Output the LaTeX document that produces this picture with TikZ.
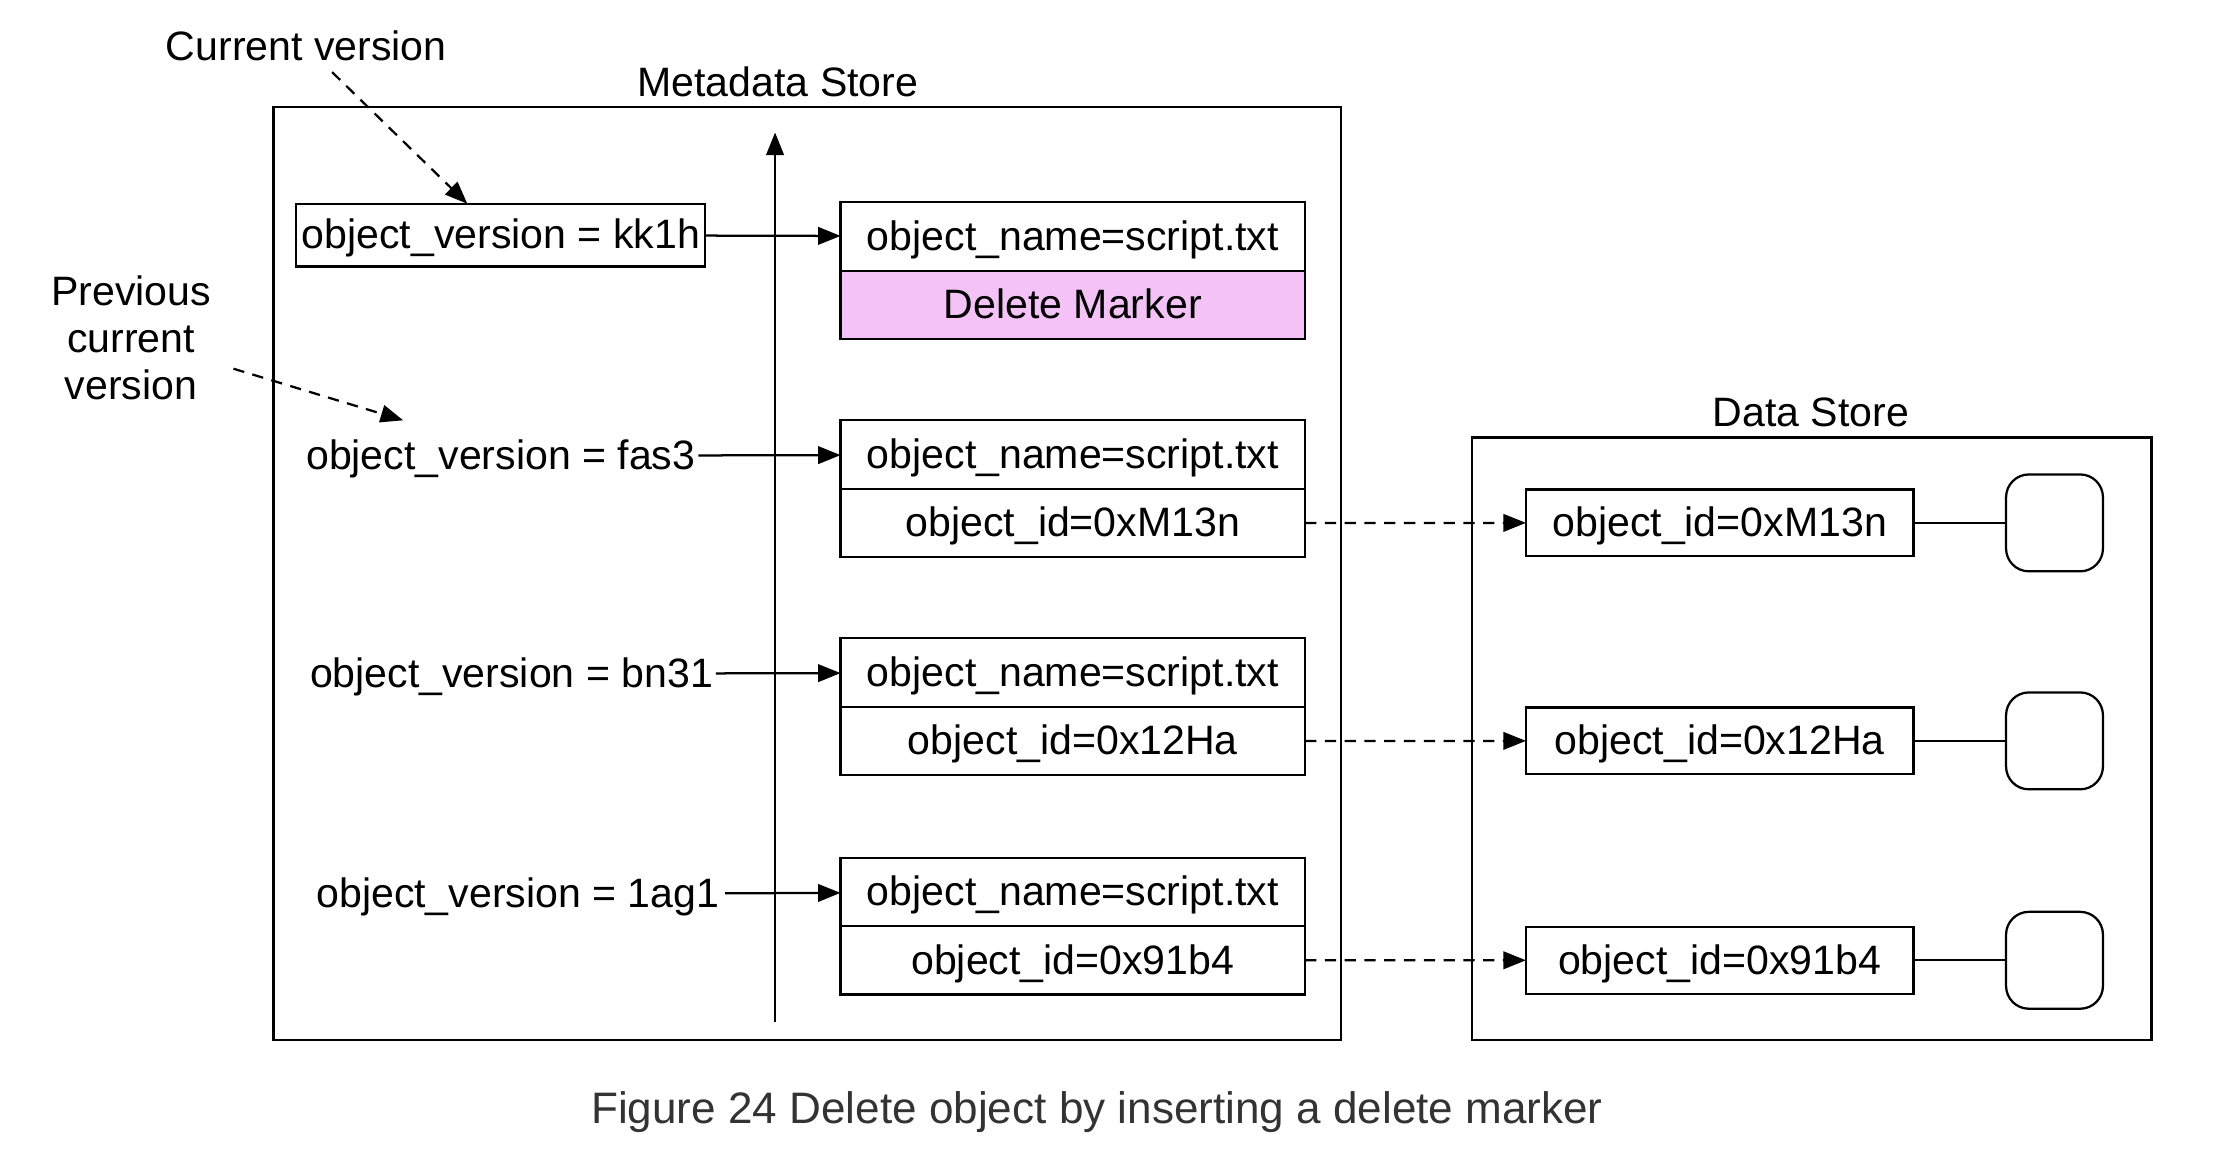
\documentclass[tikz,border=0pt]{standalone}
\usepackage{fontspec}
\setmainfont{Liberation Sans}
\usepackage{tikz}
\usetikzlibrary{arrows.meta,positioning}
\definecolor{markpink}{RGB}{245,194,247}
\definecolor{capgray}{RGB}{51,51,51}

\begin{document}
\begin{tikzpicture}[
	every node/.style={font=\fontsize{16.4}{18.7}\selectfont, text height=12pt, text depth=1pt},
	box/.style={draw, line width=0.9pt, outer sep=0pt, inner sep=2pt, align=center},
	row/.style={box, minimum width=6.52cm, minimum height=0.96cm},
	obj/.style={box, minimum width=5.44cm, minimum height=0.94cm},
	disk/.style={draw, line width=0.9pt, rounded corners=0.32cm, minimum width=1.36cm, minimum height=1.36cm},
	store/.style={draw, line width=0.9pt, outer sep=0pt},
	arr/.style={-{Triangle[length=9pt,width=7pt]}, line width=0.9pt},
	darr/.style={arr, dash pattern=on 4.5pt off 3.4pt}
]
	\useasboundingbox (0,0) rectangle (31.36,-16.28);

	% Metadata store
	\node (mtitle) at (10.92,-1.16) {Metadata Store};
	\node[store, minimum width=14.98cm, minimum height=13.1cm] (meta) at (11.33,-8.05) {};
	\coordinate (tbot) at (10.88,-14.34);
	\coordinate (ttop) at (10.88,-1.86);
	\draw[arr] (tbot) -- (ttop);

	% Current version
	\node[box, minimum width=5.74cm, minimum height=0.88cm] (v1) at (7.03,-3.3)
		{object\_version = kk1h};
	\node[row] (n1) at (15.06,-3.32) {object\_name=script.txt};
	\node[row, fill=markpink, anchor=north] (mk1) at (n1.south) {Delete Marker};
	\draw[arr] (v1) -- (n1);

	% Older versions
	\node[inner sep=1pt] (v2) at (7.03,-6.4) {object\_version = fas3};
	\node[row] (n2) at (15.06,-6.38) {object\_name=script.txt};
	\node[row, anchor=north] (i2) at (n2.south) {object\_id=0xM13n};
	\draw[arr] (v2) -- (n2);

	\node[inner sep=1pt] (v3) at (7.18,-9.46) {object\_version = bn31};
	\node[row] (n3) at (15.06,-9.44) {object\_name=script.txt};
	\node[row, anchor=north] (i3) at (n3.south) {object\_id=0x12Ha};
	\draw[arr] (v3) -- (n3);

	\node[inner sep=1pt] (v4) at (7.27,-12.54) {object\_version = 1ag1};
	\node[row] (n4) at (15.06,-12.52) {object\_name=script.txt};
	\node[row, anchor=north] (i4) at (n4.south) {object\_id=0x91b4};
	\draw[arr] ([xshift=0.04cm]v4.east) -- (n4);

	% Labels outside
	\node (cur) at (4.3,-0.66) {Current version};
	\draw[darr] (cur) -- ([xshift=-0.47cm]v1.north);
	\node[align=center, text height=, text depth=] (prev) at (1.84,-4.74)
		{Previous\\current\\version};
	\coordinate (prevtip) at (5.66,-5.9);
	\draw[darr, shorten <=0.2cm] (prev) -- (prevtip);

	% Data store
	\node (dtitle) at (25.42,-5.8) {Data Store};
	\node[store, minimum width=9.54cm, minimum height=8.46cm] (data) at (25.43,-10.37) {};

	\node[obj] (o1) at (24.14,-7.34) {object\_id=0xM13n};
	\node[obj] (o2) at (24.14,-10.4) {object\_id=0x12Ha};
	\node[obj] (o3) at (24.14,-13.48) {object\_id=0x91b4};

	\node[disk] (c1) at (28.84,-7.34) {};
	\node[disk] (c2) at (28.84,-10.4) {};
	\node[disk] (c3) at (28.84,-13.48) {};

	\draw[line width=0.9pt] (o1) -- (c1);
	\draw[line width=0.9pt] (o2) -- (c2);
	\draw[line width=0.9pt] (o3) -- (c3);

	\draw[darr] (i2) -- (o1);
	\draw[darr] (i3) -- (o2);
	\draw[darr] (i4) -- (o3);

	% Caption
	\node[text=capgray, font=\fontsize{17.6}{20}\selectfont] (cap) at (15.4,-15.58)
		{Figure 24 Delete object by inserting a delete marker};
\end{tikzpicture}
\end{document}
